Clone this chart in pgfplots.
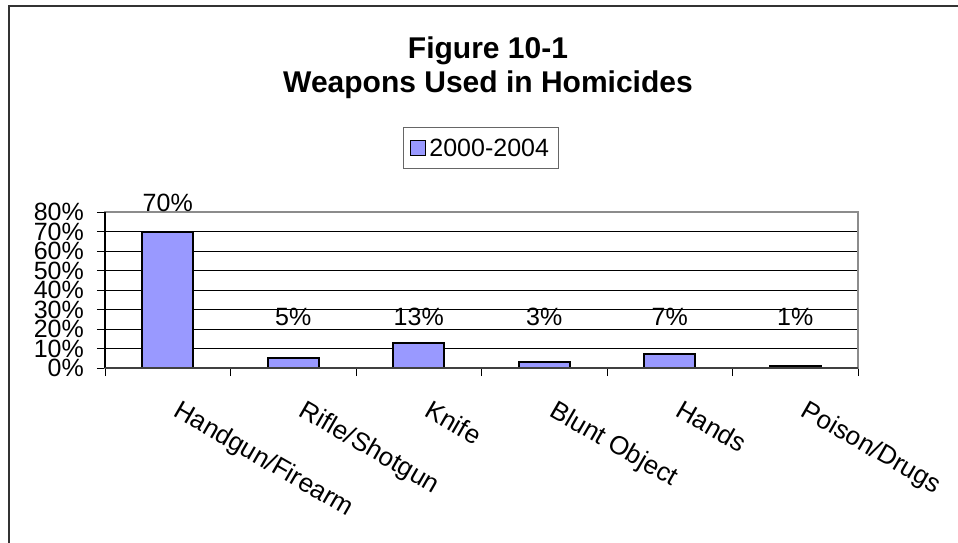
\documentclass[border=0pt]{standalone}
\usepackage{pgfplots}
\pgfplotsset{compat=1.18}
\usepackage{fontspec}
\setmainfont{Liberation Sans}
\definecolor{barblue}{HTML}{9999FF}
\begin{document}
\begin{tikzpicture}
\path[use as bounding box] (0pt,0pt) rectangle (958pt,-542pt);
\draw[line width=1.6pt, black!80] (9pt,-545pt) -- (9pt,-6pt) -- (961pt,-6pt);
\node[font=\bfseries\fontsize{30}{34}\selectfont, anchor=base] at (488pt,-58pt) {Figure 10-1};
\node[font=\bfseries\fontsize{30}{34}\selectfont, anchor=base] at (488pt,-92pt) {Weapons Used in Homicides};
\begin{axis}[
  at={(105pt,-368pt)}, anchor=south west,
  scale only axis, width=753pt, height=156pt,
  xmin=-0.5, xmax=5.5, ymin=0, ymax=80,
  clip=false,
  axis line style={draw=black!45, line width=1.6pt},
  ymajorgrids, grid style={black, line width=1pt},
  ytick={0,10,...,80},
  yticklabels={0\%,10\%,20\%,30\%,40\%,50\%,60\%,70\%,80\%},
  yticklabel style={font=\fontsize{25}{25}\selectfont, anchor=east, inner sep=0pt, xshift=-13pt},
  tick align=outside, major tick length=8pt,
  tick style={black, line width=1pt},
  ytick pos=left, xtick pos=bottom,
  xtick={-0.5,0.5,...,5.5}, xticklabels={,,,,,,},
  extra x ticks={0,1,2,3,4,5},
  extra x tick labels={Handgun/Firearm,Rifle/Shotgun,Knife,Blunt Object,Hands,Poison/Drugs},
  extra x tick style={major tick length=0pt, xticklabel style={font=\fontsize{26}{26}\selectfont, xshift=14pt, yshift=-31pt, rotate=-30, anchor=north west, inner sep=0pt}},
  legend style={at={(0.4993,1.41)}, anchor=center, draw=black!60, line width=1pt, font=\fontsize{25}{25}\selectfont, inner xsep=6pt, inner ysep=8pt, nodes={inner sep=3pt}},
]
\addplot[ybar, bar width=51pt, fill=barblue, draw=black, line width=2pt,
  legend image code/.code={\draw[fill=barblue, draw=black, line width=1.5pt] (0pt,-7.5pt) rectangle (15pt,7.5pt);}]
  coordinates {(0,70) (1,5) (2,13) (3,3) (4,7) (5,1)};
\addlegendentry{2000-2004}
\addplot[draw=none, forget plot, nodes near coords, point meta=explicit symbolic,
  nodes near coords style={anchor=center, inner sep=0pt, font=\fontsize{25}{25}\selectfont}]
  coordinates {(0,84.6) [70\%] (1,26.4) [5\%] (2,26.4) [13\%] (3,26.4) [3\%] (4,26.4) [7\%] (5,26.0) [1\%]};
\draw[black, line width=1.5pt] (rel axis cs:0,0) -- (rel axis cs:0,1);
\draw[black!75, line width=1.5pt] (rel axis cs:0,0) -- (rel axis cs:1,0);
\end{axis}
\end{tikzpicture}
\end{document}
